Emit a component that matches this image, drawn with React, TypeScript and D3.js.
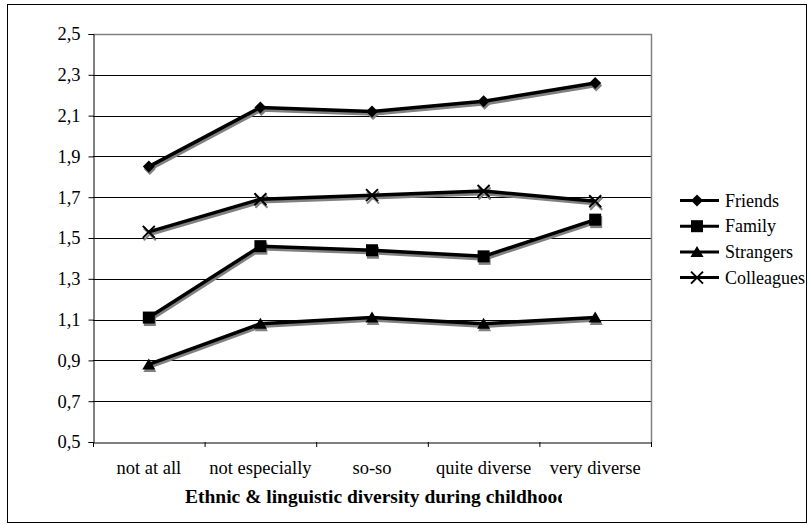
import { useEffect, useRef } from "react";
import * as d3 from "d3";

const categories = ["not at all", "not especially", "so-so", "quite diverse", "very diverse"];
const seriesNames = ["Friends", "Family", "Strangers", "Colleagues"];
const friends = [1.85, 2.14, 2.12, 2.17, 2.26];
const family = [1.11, 1.46, 1.44, 1.41, 1.59];
const strangers = [0.88, 1.08, 1.11, 1.08, 1.11];
const colleagues = [1.53, 1.69, 1.71, 1.73, 1.68];
const yTicks = [0.5, 0.7, 0.9, 1.1, 1.3, 1.5, 1.7, 1.9, 2.1, 2.3, 2.5];
const axisTitle = "Ethnic & linguistic diversity during childhood";

const FONT = "Liberation Serif, DejaVu Serif, serif";

function drawMarker(g: any, kind: string, x: number, y: number, color: string) {
  if (kind === "Friends") {
    g.append("path").attr("d", `M${x},${y - 6}L${x + 6},${y}L${x},${y + 6}L${x - 6},${y}Z`).attr("fill", color);
  } else if (kind === "Family") {
    g.append("rect").attr("x", x - 6).attr("y", y - 6).attr("width", 12).attr("height", 12).attr("fill", color);
  } else if (kind === "Strangers") {
    g.append("path").attr("d", `M${x},${y - 6}L${x + 6.5},${y + 5}L${x - 6.5},${y + 5}Z`).attr("fill", color);
  } else {
    g.append("path").attr("d", `M${x - 6},${y - 6}L${x + 6},${y + 6}M${x + 6},${y - 6}L${x - 6},${y + 6}`)
      .attr("stroke", color).attr("stroke-width", 2).attr("fill", "none");
  }
}

export default function App() {
  const ref = useRef<SVGSVGElement>(null);

  useEffect(() => {
    const svg = d3.select(ref.current);
    svg.selectAll("*").remove();

    const left = 93, right = 651, top = 34, bottom = 442;
    const x = d3.scaleBand().domain(categories).range([left, right]);
    const y = d3.scaleLinear().domain([0.5, 2.5]).range([bottom, top]);

    // outer frame
    svg.append("rect").attr("x", 7.5).attr("y", 4.5).attr("width", 799).attr("height", 518)
      .attr("fill", "white").attr("stroke", "#000").attr("stroke-width", 1);

    // gridlines
    svg.append("g").selectAll("line").data(yTicks.slice(1, -1)).join("line")
      .attr("x1", left).attr("x2", right)
      .attr("y1", (d) => Math.round(y(d)) + 0.5).attr("y2", (d) => Math.round(y(d)) + 0.5)
      .attr("stroke", "#000").attr("stroke-width", 1);
    // plot border top/right (gray)
    svg.append("path").attr("d", `M${left},${top + 0.5}H${right + 0.5}V${bottom}`)
      .attr("fill", "none").attr("stroke", "#808080").attr("stroke-width", 1.5);

    // y axis
    const yAxis = d3.axisLeft(y).tickValues(yTicks).tickSize(5).tickPadding(8)
      .tickFormat((d) => d3.format(".1f")(d as number).replace(".", ","));
    const ya = svg.append("g").attr("transform", `translate(${left + 0.5},0)`).call(yAxis);
    ya.attr("font-family", null).attr("font-size", null);
    ya.select(".domain").attr("stroke", "#000");
    ya.selectAll("text").style("font-family", FONT).style("font-size", "18.5px").attr("fill", "#000");

    // x axis
    const xAxis = d3.axisBottom(x).tickSize(0).tickPadding(18);
    const xa = svg.append("g").attr("transform", `translate(0,${bottom + 0.5})`).call(xAxis);
    xa.attr("font-family", null).attr("font-size", null);
    xa.select(".domain").attr("stroke", "#000");
    xa.selectAll("text").style("font-family", FONT).style("font-size", "18.5px").attr("fill", "#000");
    xa.selectAll(".tick line").remove();
    svg.append("g").selectAll("line").data(d3.range(categories.length + 1)).join("line")
      .attr("x1", (i) => left + i * x.bandwidth() + 0.5).attr("x2", (i) => left + i * x.bandwidth() + 0.5)
      .attr("y1", bottom).attr("y2", bottom + 5).attr("stroke", "#000");

    // axis title (clipped like the original)
    svg.append("clipPath").attr("id", "titleclip").append("rect")
      .attr("x", 0).attr("y", 470).attr("width", 562).attr("height", 40);
    svg.append("text").attr("x", 185).attr("y", 503).attr("text-anchor", "start")
      .style("font-family", FONT).style("font-size", "19.5px").style("font-weight", "bold")
      .attr("clip-path", "url(#titleclip)").text(axisTitle);

    // series
    const data = [friends, family, strangers, colleagues];
    const cx = (i: number) => (x(categories[i]) as number) + x.bandwidth() / 2;
    const line = d3.line<number>().x((_, i) => cx(i)).y((d) => y(d));
    data.forEach((vals, si) => {
      const name = seriesNames[si];
      const sh = svg.append("g").attr("transform", "translate(1,2.5)");
      sh.append("path").attr("d", line(vals)).attr("fill", "none").attr("stroke", "#808080").attr("stroke-width", 3.5);
      vals.forEach((v, i) => drawMarker(sh, name, cx(i), y(v), "#808080"));
      const g = svg.append("g");
      g.append("path").attr("d", line(vals)).attr("fill", "none").attr("stroke", "#000").attr("stroke-width", 3.5)
        .attr("stroke-linejoin", "round");
      vals.forEach((v, i) => drawMarker(g, name, cx(i), y(v), "#000"));
    });

    // legend
    const lg = svg.append("g");
    seriesNames.forEach((name, i) => {
      const ly = 200.5 + i * 25.7;
      lg.append("line").attr("x1", 680).attr("x2", 719).attr("y1", ly).attr("y2", ly)
        .attr("stroke", "#000").attr("stroke-width", 3);
      drawMarker(lg, name, 697, ly, "#000");
      lg.append("text").attr("x", 725).attr("y", ly + 6).style("font-family", FONT).style("font-size", "18px")
        .text(name);
    });
  }, []);

  return <svg ref={ref} width={808} height={525} style={{ position: "absolute", left: 0, top: 0 }} />;
}
